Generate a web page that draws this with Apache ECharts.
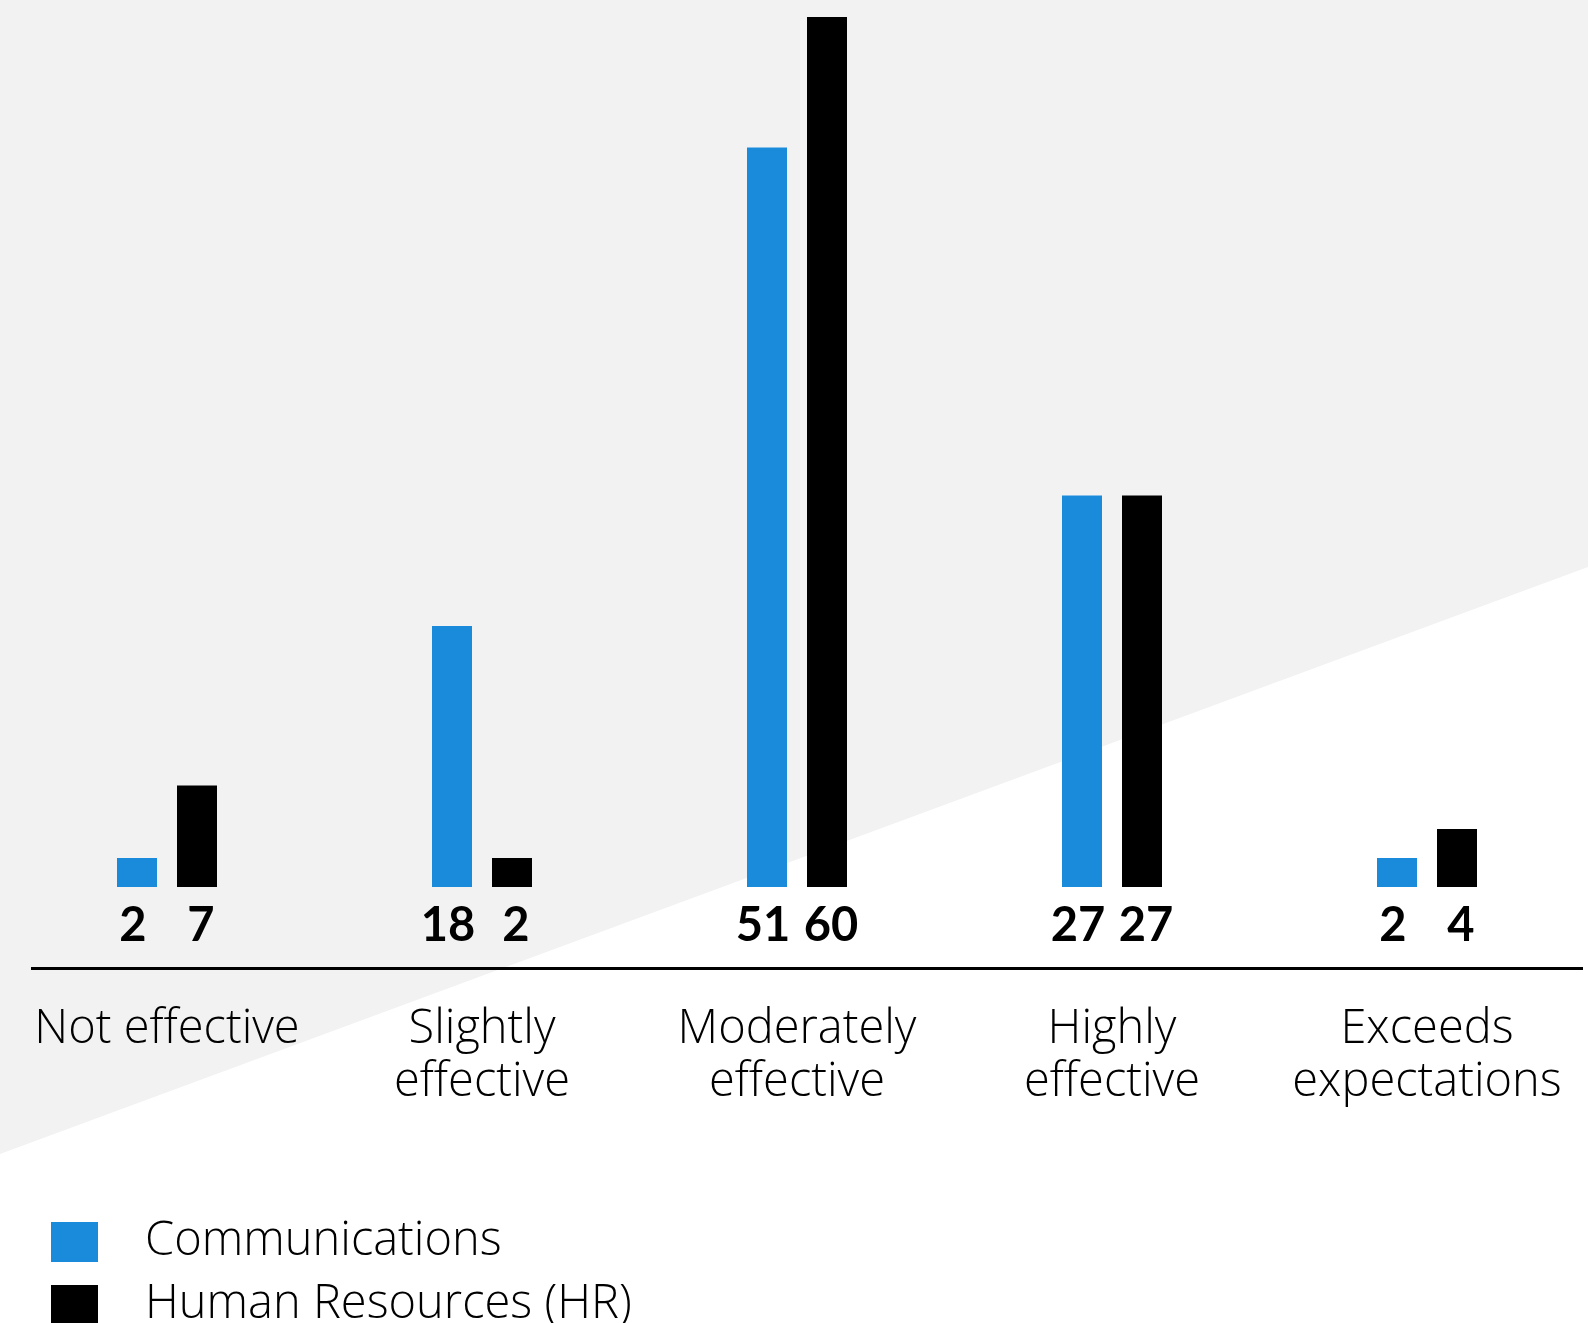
<!DOCTYPE html>
<html>
<head>
<meta charset="utf-8">
<script src="https://cdn.jsdelivr.net/npm/echarts@6/dist/echarts.min.js"></script>
<style>
  html, body { margin: 0; padding: 0; background: #ffffff; }
  #chart { width: 1588px; height: 1323px; }
</style>
</head>
<body>
<div id="chart"></div>
<script>
// Rating categories (line breaks as drawn under the axis)
const categories = [
  'Not effective',
  'Slightly\neffective',
  'Moderately\neffective',
  'Highly\neffective',
  'Exceeds\nexpectations'
];
const seriesNames = ['Communications', 'Human Resources (HR)'];
const communications = [2, 18, 51, 27, 2];
const humanResources = [7, 2, 60, 27, 4];

const BLUE = '#1a8bdb';
const BLACK = '#000000';
const TEXT_FONT = '"Open Sans", Lato, "Noto Sans", sans-serif';
const NUM_FONT = 'Lato, "Open Sans", "Noto Sans", sans-serif';

const chart = echarts.init(document.getElementById('chart'), null, { renderer: 'canvas' });

// value labels sit under each bar, nudged apart so pairs stay readable
function valueLabel(dx) {
  return {
    show: true,
    position: 'bottom',
    distance: 15,
    offset: [dx, 0],
    color: '#000',
    fontFamily: NUM_FONT,
    fontWeight: 'bold',
    fontSize: 47
  };
}

// one single-item legend per series, stacked vertically
function legendItem(name, top) {
  return {
    orient: 'vertical',
    left: 51,
    top: top,
    padding: 0,
    itemWidth: 47,
    itemHeight: 40,
    icon: 'rect',
    data: [name],
    textStyle: {
      color: '#000',
      fontFamily: TEXT_FONT,
      fontWeight: 300,
      fontSize: 47,
      lineHeight: 44,
      padding: [4, 0, 0, 42]
    }
  };
}

chart.setOption({
  animation: false,
  backgroundColor: '#ffffff',
  graphic: [
    {
      // diagonal grey backdrop
      type: 'polygon',
      z: -10,
      silent: true,
      shape: { points: [[0, 0], [1588, 0], [1588, 567], [0, 1154]] },
      style: { fill: '#f2f2f2' }
    },
    {
      // baseline rule under the value labels
      type: 'line',
      z: 10,
      silent: true,
      shape: { x1: 31, y1: 968.5, x2: 1583, y2: 968.5 },
      style: { stroke: '#000', lineWidth: 3 }
    }
  ],
  grid: { left: 9.5, right: 3.5, top: 17, bottom: 436, containLabel: false },
  xAxis: {
    type: 'category',
    data: categories,
    axisLine: { show: false },
    axisTick: { show: false },
    axisLabel: {
      interval: 0,
      margin: 116,
      color: '#000',
      fontFamily: TEXT_FONT,
      fontWeight: 300,
      fontSize: 47,
      lineHeight: 53
    }
  },
  yAxis: {
    type: 'value',
    min: 0,
    max: 60,
    show: false,
    splitLine: { show: false }
  },
  legend: [
    legendItem(seriesNames[0], 1218),
    legendItem(seriesNames[1], 1281)
  ],
  series: [
    {
      name: seriesNames[0],
      type: 'bar',
      data: communications,
      barWidth: 40,
      barGap: '50%',
      itemStyle: { color: BLUE },
      label: valueLabel(-4)
    },
    {
      name: seriesNames[1],
      type: 'bar',
      data: humanResources,
      barWidth: 40,
      barGap: '50%',
      itemStyle: { color: BLACK },
      label: valueLabel(4)
    }
  ]
});
</script>
</body>
</html>
